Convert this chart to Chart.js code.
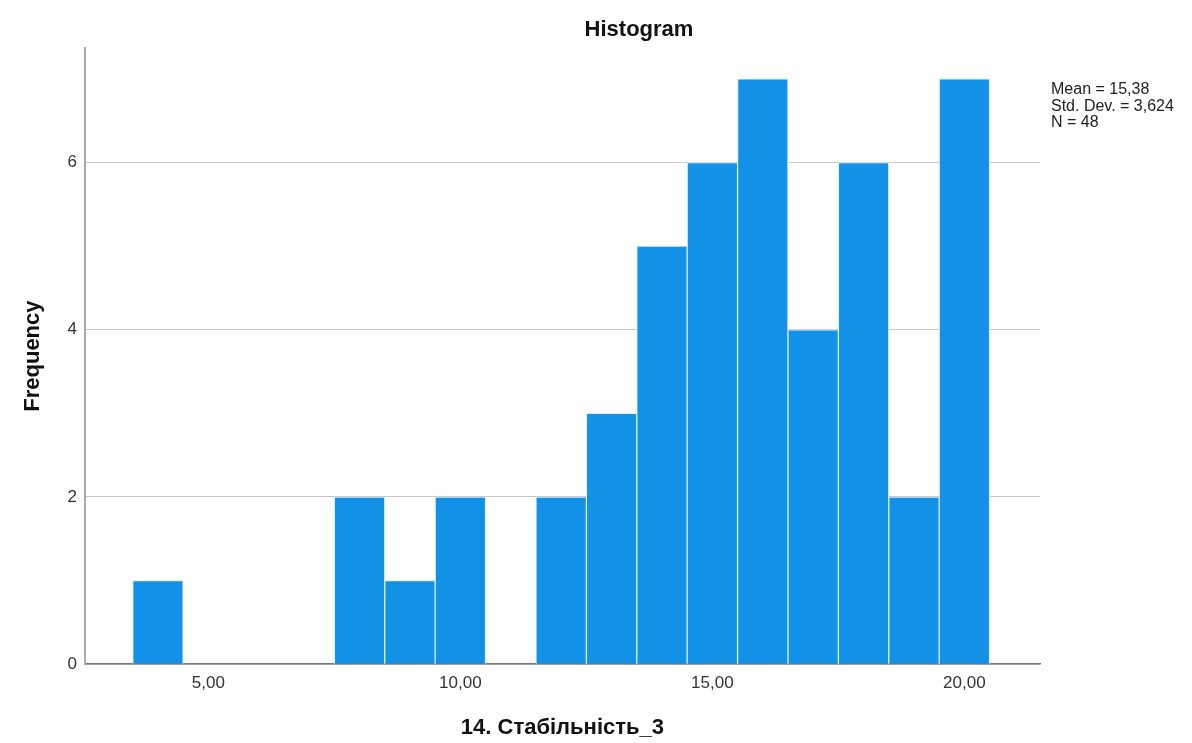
<!DOCTYPE html>
<html>
<head>
<meta charset="utf-8">
<script src="https://cdn.jsdelivr.net/npm/chart.js@4/dist/chart.umd.min.js"></script>
<style>
  html, body { margin: 0; padding: 0; background: #fff; }
  #wrap { width: 1192px; height: 743px; }
</style>
</head>
<body>
<div id="wrap"><canvas id="myChart" width="1192" height="743"></canvas></div>
<script>
// histogram bins (centre of each bin, width 1)
const binCenters = [4, 5, 6, 7, 8, 9, 10, 11, 12, 13, 14, 15, 16, 17, 18, 19, 20];
const frequencies = [1, 0, 0, 0, 2, 1, 2, 0, 2, 3, 5, 6, 7, 4, 6, 2, 7];
const xTicks = [5, 10, 15, 20];
const yTicks = [0, 2, 4, 6];
const statsLines = ['Mean = 15,38', 'Std. Dev. = 3,624', 'N = 48'];

const FONT = "'Liberation Sans', Arial, sans-serif";

// title and the stats box on the right
const extraText = {
  id: 'extraText',
  afterDraw(chart) {
    const ctx = chart.ctx;
    ctx.save();
    ctx.fillStyle = '#111';
    ctx.font = 'bold 22px ' + FONT;
    ctx.textAlign = 'center';
    ctx.textBaseline = 'middle';
    ctx.fillText('Histogram', 639, 30);

    ctx.font = '16px ' + FONT;
    ctx.textAlign = 'left';
    ctx.fillStyle = '#222';
    statsLines.forEach((s, i) => ctx.fillText(s, 1051, 90 + i * 16.5));
    ctx.restore();
  }
};

const data = {
  datasets: [
    {
      label: 'Frequency',
      data: binCenters.map((c, i) => ({ x: c, y: frequencies[i] })),
      backgroundColor: '#1391e6',
      borderColor: '#dcefff',
      borderWidth: 1,
      barPercentage: 1,
      categoryPercentage: 1,
    },
  ],
};

const myBarChart = new Chart('myChart', {
  type: 'bar',
  data,
  plugins: [extraText],
  options: {
    responsive: false,
    animation: false,
    layout: { padding: { left: 20, right: 152, top: 48, bottom: 2 } },
    plugins: {
      legend: { display: false },
      tooltip: { enabled: false },
    },
    scales: {
      x: {
        type: 'linear',
        offset: false,
        min: 2.55,
        max: 21.5,
        grid: { display: false, drawTicks: false },
        border: { display: true, color: '#777', width: 1.5 },
        afterBuildTicks: (axis) => { axis.ticks = xTicks.map(v => ({ value: v })); },
        ticks: {
          includeBounds: false,
          padding: 9,
          color: '#333',
          font: { family: FONT, size: 17 },
          callback: (v) => v.toFixed(2).replace('.', ','),
        },
        title: {
          display: true,
          text: '14. Стабільність_3',
          color: '#111',
          font: { family: FONT, size: 22, weight: 'bold' },
          padding: { top: 12, bottom: 0 },
        },
      },
      y: {
        min: 0,
        max: 7.37,
        grid: { color: '#c8c8c8', lineWidth: 1, drawTicks: false },
        border: { display: true, color: '#aaa', width: 2 },
        afterBuildTicks: (axis) => { axis.ticks = yTicks.map(v => ({ value: v })); },
        ticks: {
          includeBounds: false,
          padding: 8,
          color: '#333',
          font: { family: FONT, size: 17 },
        },
        title: {
          display: true,
          text: 'Frequency',
          color: '#111',
          font: { family: FONT, size: 22, weight: 'bold' },
          padding: { top: 0, bottom: 13 },
        },
      },
    },
  },
});
</script>
</body>
</html>
